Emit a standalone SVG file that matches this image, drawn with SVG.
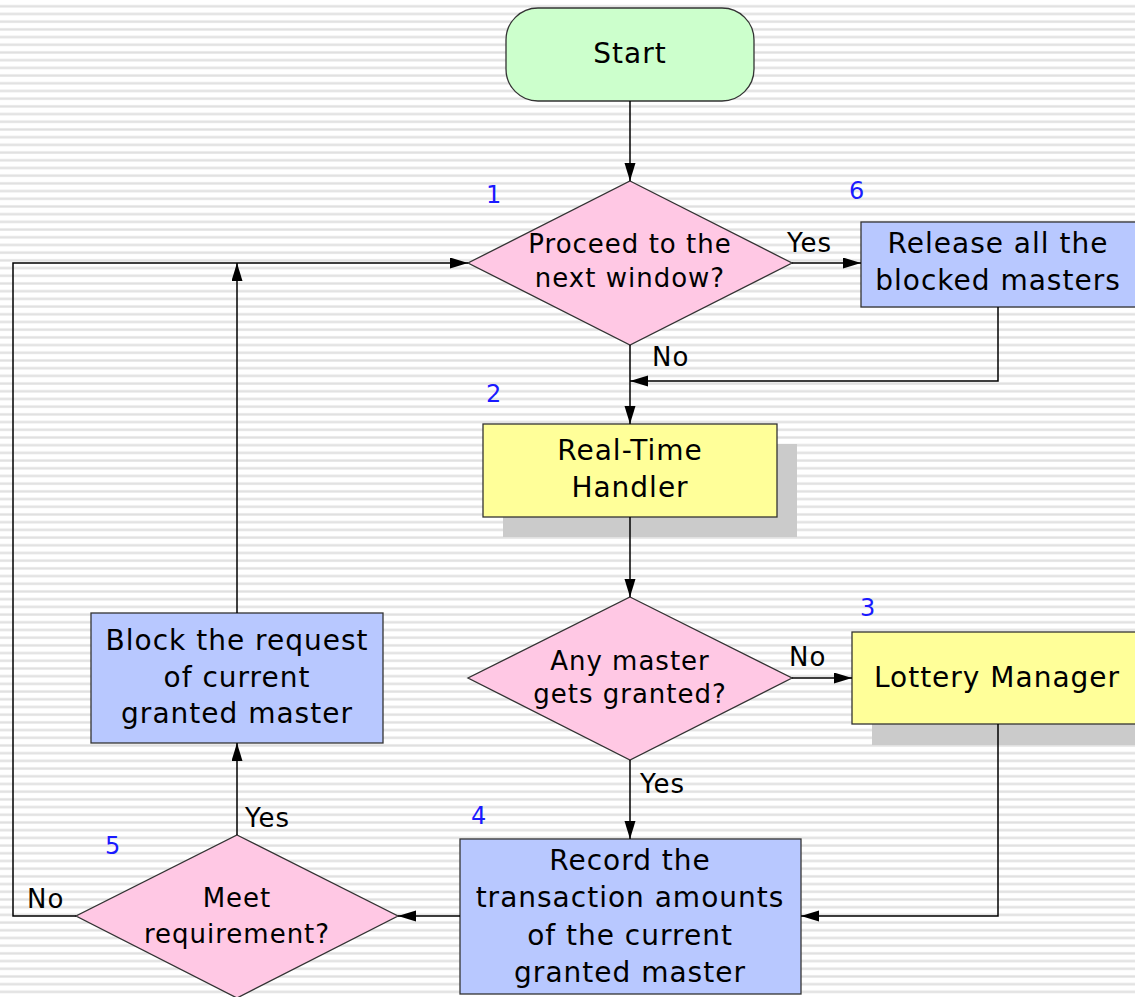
<svg xmlns="http://www.w3.org/2000/svg" width="1135" height="997" viewBox="0 0 1135 997">
  <defs>
    <pattern id="stripes" x="0" y="0" width="20" height="7.7" patternUnits="userSpaceOnUse">
      <rect x="0" y="0" width="20" height="7.7" fill="#ffffff"/>
      <rect x="0" y="4.8" width="20" height="3" fill="#eeeeee"/>
      <rect x="0" y="5.5" width="20" height="1.6" fill="#e0e0e0"/>
    </pattern>
    <marker id="arrow" markerUnits="userSpaceOnUse" markerWidth="19" markerHeight="12" refX="18" refY="5.5" orient="auto">
      <path d="M0,0 L18,5.5 L0,11 z" fill="#000"/>
    </marker>
    <style>
      .txt { font-family: "DejaVu Sans", Verdana, sans-serif; fill: #000; text-anchor: middle; letter-spacing: 1px; }
      .box { font-size: 28px; }
      .dia { font-size: 26px; }
      .lbl { font-family: "DejaVu Sans", Verdana, sans-serif; font-size: 26px; fill: #000; letter-spacing: 1px; }
      .num { font-family: "DejaVu Sans", Verdana, sans-serif; font-size: 24px; fill: #1a1aff; }
      .shape { stroke: #333; stroke-width: 1.3; }
      .decision { fill: #ffc8e4; }
      .process { fill: #b8c8ff; }
      .module { fill: #ffff99; }
      .shadow { fill: #cbcbcb; }
      .wire { fill: none; stroke: #000; stroke-width: 1.5; }
    </style>
  </defs>

  <rect x="0" y="0" width="1135" height="997" fill="url(#stripes)"/>

  <g id="start">
    <rect class="shape" x="506" y="8" width="248" height="93" rx="32" ry="32" fill="#ccffcc"/>
    <text class="txt box" x="630" y="63">Start</text>
  </g>

  <g id="step1-decision">
    <polygon class="shape decision" points="630,181 792,263 630,345 468,263"/>
    <text class="txt dia" x="630" y="253">Proceed to the</text>
    <text class="txt dia" x="630" y="287">next window?</text>
    <text class="num" x="486" y="203">1</text>
  </g>

  <g id="step6-release">
    <rect class="shape process" x="861" y="222" width="280" height="85"/>
    <text class="txt box" x="998" y="253">Release all the</text>
    <text class="txt box" x="998" y="290">blocked masters</text>
    <text class="num" x="849" y="199">6</text>
  </g>

  <g id="step2-handler">
    <rect class="shadow" x="503" y="444" width="294" height="93"/>
    <rect class="shape module" x="483" y="424" width="294" height="93"/>
    <text class="txt box" x="630" y="460">Real-Time</text>
    <text class="txt box" x="630" y="497">Handler</text>
    <text class="num" x="486" y="402">2</text>
  </g>

  <g id="step2-decision">
    <polygon class="shape decision" points="630,597 792,678 630,760 468,678"/>
    <text class="txt dia" x="630" y="670">Any master</text>
    <text class="txt dia" x="630" y="703">gets granted?</text>
  </g>

  <g id="step3-lottery">
    <rect class="shadow" x="872" y="652" width="290" height="93"/>
    <rect class="shape module" x="852" y="632" width="290" height="92"/>
    <text class="txt box" x="997" y="687">Lottery Manager</text>
    <text class="num" x="860" y="616">3</text>
  </g>

  <g id="step4-record">
    <rect class="shape process" x="460" y="839" width="341" height="155"/>
    <text class="txt box" x="630" y="870">Record the</text>
    <text class="txt box" x="630" y="907">transaction amounts</text>
    <text class="txt box" x="630" y="945">of the current</text>
    <text class="txt box" x="630" y="982">granted master</text>
    <text class="num" x="471" y="824">4</text>
  </g>

  <g id="step5-decision">
    <polygon class="shape decision" points="237,835 398,916 237,998 76,916"/>
    <text class="txt dia" x="237" y="907">Meet</text>
    <text class="txt dia" x="237" y="943">requirement?</text>
    <text class="num" x="105" y="854">5</text>
  </g>

  <g id="step5-block">
    <rect class="shape process" x="91" y="613" width="292" height="130"/>
    <text class="txt box" x="237" y="650">Block the request</text>
    <text class="txt box" x="237" y="687">of current</text>
    <text class="txt box" x="237" y="723">granted master</text>
  </g>

  <!-- connectors, drawn last so they run over the drop shadows -->
  <g id="connectors">
    <path class="wire" d="M630,101 V181" marker-end="url(#arrow)"/>
    <path class="wire" d="M792,263 H861" marker-end="url(#arrow)"/>
    <path class="wire" d="M998,307 V381 H630" marker-end="url(#arrow)"/>
    <path class="wire" d="M630,345 V424" marker-end="url(#arrow)"/>
    <path class="wire" d="M630,517 V597" marker-end="url(#arrow)"/>
    <path class="wire" d="M792,678 H852" marker-end="url(#arrow)"/>
    <path class="wire" d="M998,724 V916 H801" marker-end="url(#arrow)"/>
    <path class="wire" d="M630,760 V839" marker-end="url(#arrow)"/>
    <path class="wire" d="M460,916 H398" marker-end="url(#arrow)"/>
    <path class="wire" d="M237,835 V743" marker-end="url(#arrow)"/>
    <path class="wire" d="M237,613 V263" marker-end="url(#arrow)"/>
    <path class="wire" d="M76,916 H13 V263 H468" marker-end="url(#arrow)"/>
    <text class="lbl" x="787" y="252">Yes</text>
    <text class="lbl" x="652" y="366">No</text>
    <text class="lbl" x="789" y="666">No</text>
    <text class="lbl" x="640" y="793">Yes</text>
    <text class="lbl" x="245" y="827">Yes</text>
    <text class="lbl" x="27" y="908">No</text>
  </g>
</svg>
